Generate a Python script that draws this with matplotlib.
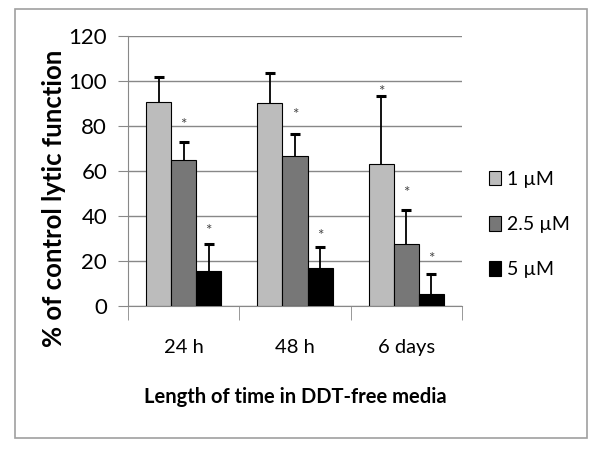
import numpy as np
import matplotlib.pyplot as plt
from matplotlib.patches import Rectangle

plt.rcParams['font.family'] = ['Lato', 'DejaVu Sans']

categories = ["24 h", "48 h", "6 days"]
series = ["1 \u00b5M", "2.5 \u00b5M", "5 \u00b5M"]
values = [
    [90.8, 90.2, 63.0],
    [64.9, 66.5, 27.4],
    [15.7, 16.7, 5.2],
]
errors = [
    [11.0, 13.2, 30.5],
    [8.1, 10.1, 15.4],
    [11.9, 9.7, 9.0],
]
# height of the significance asterisk, None where there is none
star_y = [
    [None, None, 97.3],
    [82.7, 87.1, 52.4],
    [35.6, 33.3, 23.1],
]
colors = ["#bcbcbc", "#777777", "#000000"]

fig = plt.figure(figsize=(6, 4.49), dpi=100)
fig.patches.append(Rectangle((15 / 600, 1 - 438 / 449), 572 / 600, 429 / 449,
                             transform=fig.transFigure, fill=False,
                             edgecolor="#a0a0a0", lw=1.2))
ax = fig.add_axes([128 / 600, 1 - 306 / 449, 334 / 600, 270 / 449])

x = np.arange(len(categories))
w = 0.225
for i, name in enumerate(series):
    pos = x + (i - 1) * w
    ax.bar(pos, values[i], w, color=colors[i], edgecolor="black", lw=0.8,
           label=name, zorder=3)
    eb = ax.errorbar(pos, values[i], yerr=[np.zeros(3), errors[i]], fmt="none",
                     ecolor="black", elinewidth=1.3, capsize=3.5, capthick=2.2,
                     zorder=2)
    eb[1][0].set_visible(False)  # only the upper cap
    for j in range(len(categories)):
        if star_y[i][j] is not None:
            ax.text(pos[j], star_y[i][j] - 4, "*", ha="center",
                    va="baseline", fontsize=11, color="#444444")

ax.set_ylim(0, 120)
ax.set_xlim(-0.5, 2.5)
ax.set_yticks(range(0, 121, 20))
ax.tick_params(axis="y", labelsize=16, length=7, color="#888888", pad=8)
ax.set_xticks(x)
ax.set_xticklabels(categories, fontsize=14.5)
ax.tick_params(axis="x", which="major", length=0, pad=24)
ax.set_xticks([-0.5, 0.5, 1.5, 2.5], minor=True)
ax.tick_params(axis="x", which="minor", length=10, color="#888888")
ax.grid(axis="y", color="#888888", lw=1, zorder=0)
for s in ["top", "right"]:
    ax.spines[s].set_visible(False)
for s in ["left", "bottom"]:
    ax.spines[s].set_color("#888888")

ax.set_ylabel("% of control lytic function", fontsize=18.5, fontweight="bold")
ax.yaxis.set_label_coords(-0.185, 0.40)
ax.set_xlabel("Length of time in DDT-free media", fontsize=14.5, fontweight="bold", labelpad=22)

fig.legend(loc="center left", bbox_to_anchor=(0.785, 0.5), frameon=False,
           fontsize=14, handlelength=0.65, handleheight=0.8, handletextpad=0.3,
           labelspacing=1.45)

fig.savefig("out.png", dpi=100)
